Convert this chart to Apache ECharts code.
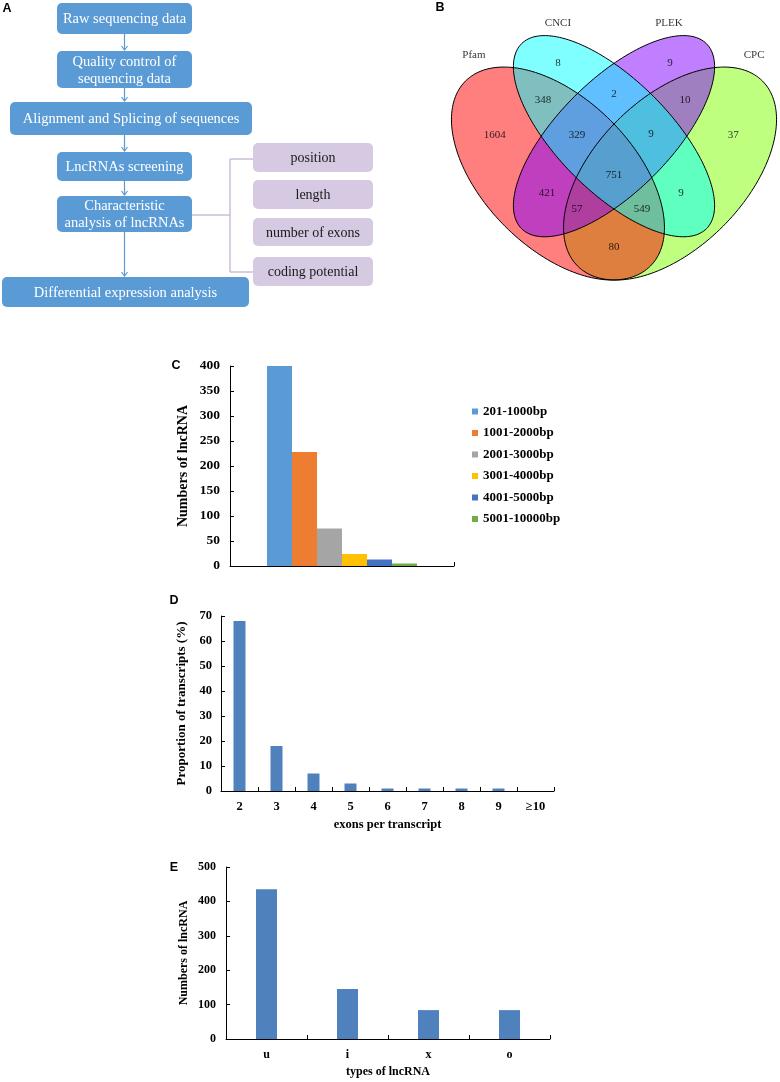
<!DOCTYPE html>
<html>
<head>
<meta charset="utf-8">
<script src="https://cdn.jsdelivr.net/npm/echarts@6/dist/echarts.min.js"></script>
<style>
html,body{margin:0;padding:0;background:#fff;}
#chart{width:780px;height:1082px;}
</style>
</head>
<body>
<div id="chart"></div>
<script>
// ---------------- DATA ----------------
// Panel A (workflow)
const flowSteps = ['Raw sequencing data', 'Quality control of\nsequencing data', 'Alignment and Splicing of sequences', 'LncRNAs screening', 'Characteristic\nanalysis of lncRNAs', 'Differential expression analysis'];
const featureSteps = ['position', 'length', 'number of exons', 'coding potential'];

// Panel B (Venn)
const vennSets = ['Pfam', 'CNCI', 'PLEK', 'CPC'];
const vennRegionNames = ['CNCI', 'PLEK', 'Pfam&CNCI', 'CNCI&PLEK', 'PLEK&CPC', 'Pfam', 'Pfam&CNCI&PLEK', 'CNCI&PLEK&CPC', 'CPC', 'Pfam&CNCI&PLEK&CPC', 'Pfam&PLEK', 'CNCI&CPC', 'Pfam&PLEK&CPC', 'Pfam&CNCI&CPC', 'Pfam&CPC'];
const vennRegionCounts = [8, 9, 348, 2, 10, 1604, 329, 9, 37, 751, 421, 9, 57, 549, 80];

// Panel C
const lengthBins = ['201-1000bp', '1001-2000bp', '2001-3000bp', '3001-4000bp', '4001-5000bp', '5001-10000bp'];
const lengthCounts = [400, 228, 75, 24, 13, 5];

// Panel D
const exonCats = ['2', '3', '4', '5', '6', '7', '8', '9', '≥10'];
const exonPct = [68, 18, 7, 3, 1, 1, 1, 1, 0];

// Panel E
const typeCats = ['u', 'i', 'x', 'o'];
const typeCounts = [435, 145, 84, 84];

// ---------------- LAYOUT / STYLE ----------------
const SERIF = '"Liberation Serif","Times New Roman",serif';
const SANS = '"Liberation Sans",Arial,sans-serif';
const flowBlue = '#5b9bd5';
const lavender = '#d6cae2';
const lengthColors = ['#5b9bd5', '#ed7d31', '#a5a5a5', '#ffc000', '#4472c4', '#70ad47'];
const barBlue = '#4f81bd';

// Venn ellipse geometry (unit layout: cx, cy, semi-major, semi-minor, angle)
const vennEllipses = {
  Pfam: [0.35, 0.47, 0.35, 0.20, -45],
  CNCI: [0.50, 0.57, 0.35, 0.15, -45],
  PLEK: [0.50, 0.57, 0.35, 0.15, 45],
  CPC:  [0.65, 0.47, 0.35, 0.20, 45]
};
const vennFill = { Pfam: 'rgba(255,0,0,0.5)', CNCI: 'rgba(0,255,255,0.5)', PLEK: 'rgba(127,0,255,0.5)', CPC: 'rgba(127,255,0,0.5)' };
const vennDrawOrder = ['CPC', 'Pfam', 'PLEK', 'CNCI'];
const vennSetLabelPos = { Pfam: [0.125, 0.787], CNCI: [0.350, 0.873], PLEK: [0.647, 0.873], CPC: [0.875, 0.787] };
const vennRegionPos = {
  'CNCI': [0.350, 0.766], 'PLEK': [0.650, 0.766], 'Pfam&CNCI': [0.310, 0.667], 'CNCI&PLEK': [0.5, 0.683],
  'PLEK&CPC': [0.690, 0.667], 'Pfam': [0.181, 0.573], 'Pfam&CNCI&PLEK': [0.401, 0.573], 'CNCI&PLEK&CPC': [0.599, 0.576],
  'CPC': [0.819, 0.573], 'Pfam&CNCI&PLEK&CPC': [0.5, 0.466], 'Pfam&PLEK': [0.321, 0.418], 'CNCI&CPC': [0.679, 0.418],
  'Pfam&PLEK&CPC': [0.401, 0.375], 'Pfam&CNCI&CPC': [0.575, 0.375], 'Pfam&CPC': [0.5, 0.273]
};

// Flowchart boxes layout
const flowBoxes = [
  [57, 3, 135, 31], [57, 51, 135, 37], [10, 102, 242, 33], [57, 152, 135, 29], [57, 196, 135, 36], [2, 277, 247, 30]
];
const featureBoxes = [[253, 143, 120, 29], [253, 180, 120, 29], [253, 218, 120, 28], [253, 257, 120, 29]];

// ---------------- GRAPHIC (panel A + letters) ----------------
const graphics = [];
flowBoxes.forEach((b, i) => {
  graphics.push({ type: 'rect', shape: { x: b[0], y: b[1], width: b[2], height: b[3], r: 5 }, style: { fill: flowBlue }, silent: true });
  graphics.push({ type: 'text', x: b[0] + b[2] / 2, y: b[1] + b[3] / 2 + 1, style: { text: flowSteps[i], fill: '#ffffff', fontFamily: SERIF, fontSize: 14.5, lineHeight: 17, align: 'center', verticalAlign: 'middle' }, silent: true });
});
featureBoxes.forEach((b, i) => {
  graphics.push({ type: 'rect', shape: { x: b[0], y: b[1], width: b[2], height: b[3], r: 5 }, style: { fill: lavender }, silent: true });
  graphics.push({ type: 'text', x: b[0] + b[2] / 2, y: b[1] + b[3] / 2 + 1, style: { text: featureSteps[i], fill: '#1a1a1a', fontFamily: SERIF, fontSize: 14, align: 'center', verticalAlign: 'middle' }, silent: true });
});
// arrows
const arrowX = 124.5;
const arrowSegs = [[34, 51], [88, 102], [135, 152], [181, 196], [232, 277]];
arrowSegs.forEach(s => {
  graphics.push({ type: 'line', shape: { x1: arrowX, y1: s[0], x2: arrowX, y2: s[1] - 1 }, style: { stroke: flowBlue, lineWidth: 1.2 }, silent: true });
  graphics.push({ type: 'polyline', shape: { points: [[arrowX - 3, s[1] - 5], [arrowX, s[1] - 1], [arrowX + 3, s[1] - 5]] }, style: { stroke: flowBlue, lineWidth: 1.2, fill: null }, silent: true });
});
// bracket
const bracketColor = '#cbbcd9';
[[192, 215, 230, 215], [230, 159, 230, 272], [230, 159, 253, 159], [230, 272, 253, 272]].forEach(l => {
  graphics.push({ type: 'line', shape: { x1: l[0], y1: l[1], x2: l[2], y2: l[3] }, style: { stroke: bracketColor, lineWidth: 1.5 }, silent: true });
});
// panel letters
[['A', 7, 9], ['B', 440, 8], ['C', 176, 366], ['D', 174, 601], ['E', 174, 868]].forEach(p => {
  graphics.push({ type: 'text', x: p[1], y: p[2], style: { text: p[0], fill: '#000', fontFamily: SANS, fontWeight: 'bold', fontSize: 12.5, align: 'center', verticalAlign: 'middle' }, silent: true });
});

// ---------------- SERIES ----------------
function ellipsePoints(api, e) {
  const [cx, cy, a, b, deg] = e;
  const ang = deg * Math.PI / 180;
  const pts = [];
  const N = 180;
  for (let i = 0; i < N; i++) {
    const t = i / N * 2 * Math.PI;
    const x = cx + a * Math.cos(t) * Math.cos(ang) - b * Math.sin(t) * Math.sin(ang);
    const y = cy + a * Math.cos(t) * Math.sin(ang) + b * Math.sin(t) * Math.cos(ang);
    pts.push(api.coord([x, y]));
  }
  return pts;
}
const vennEllipseData = vennDrawOrder.map(n => ({ name: n, value: vennEllipses[n] }));

const axisTextBold = { color: '#000', fontFamily: SERIF, fontWeight: 'bold' };
const axisLineBlack = { lineStyle: { color: '#000', width: 1 } };

const series = [
  {
    type: 'custom', xAxisIndex: 0, yAxisIndex: 0, silent: true, clip: false,
    data: vennEllipseData,
    renderItem: function (params, api) {
      const n = vennDrawOrder[params.dataIndex];
      return { type: 'polygon', shape: { points: ellipsePoints(api, vennEllipses[n]) }, style: { fill: vennFill[n], stroke: null } };
    }
  },
  {
    type: 'custom', xAxisIndex: 0, yAxisIndex: 0, silent: true, clip: false,
    data: vennEllipseData,
    renderItem: function (params, api) {
      const n = vennDrawOrder[params.dataIndex];
      return { type: 'polygon', shape: { points: ellipsePoints(api, vennEllipses[n]) }, style: { fill: null, stroke: '#000', lineWidth: 1 } };
    }
  },
  {
    type: 'scatter', xAxisIndex: 0, yAxisIndex: 0, silent: true, symbolSize: 0,
    data: vennRegionNames.map((n, i) => ({ name: n, value: [vennRegionPos[n][0], vennRegionPos[n][1], vennRegionCounts[i]] })),
    label: { show: true, position: 'inside', formatter: p => String(p.value[2]), color: '#000', fontFamily: SERIF, fontSize: 11 }
  },
  {
    type: 'scatter', xAxisIndex: 0, yAxisIndex: 0, silent: true, symbolSize: 0,
    data: vennSets.map(n => ({ name: n, value: [vennSetLabelPos[n][0], vennSetLabelPos[n][1]] })),
    label: { show: true, position: 'inside', formatter: p => p.name, color: '#000', fontFamily: SERIF, fontSize: 11 }
  }
];
lengthBins.forEach((name, i) => {
  series.push({
    type: 'bar', name: name, xAxisIndex: 1, yAxisIndex: 1, barWidth: 25, barGap: '0%',
    itemStyle: { color: lengthColors[i] }, data: [lengthCounts[i]], silent: true
  });
});
series.push({ type: 'bar', xAxisIndex: 2, yAxisIndex: 2, barWidth: 12, data: exonPct, itemStyle: { color: barBlue }, silent: true });
series.push({ type: 'bar', xAxisIndex: 3, yAxisIndex: 3, barWidth: 21, data: typeCounts, itemStyle: { color: barBlue }, silent: true });

const option = {
  animation: false,
  backgroundColor: '#ffffff',
  graphic: graphics,
  grid: [
    { left: 449.6, top: 12.9, width: 328.8, height: 280.2 },
    { left: 230, top: 366, width: 224, height: 200 },
    { left: 221, top: 616, width: 333, height: 175 },
    { left: 226, top: 867, width: 324, height: 172 }
  ],
  xAxis: [
    { gridIndex: 0, type: 'value', min: 0.06, max: 0.94, show: false },
    { gridIndex: 1, type: 'category', data: [''], axisLine: axisLineBlack,
      axisTick: { show: true, inside: true, length: 4, lineStyle: { color: '#000' } }, axisLabel: { show: false } },
    { gridIndex: 2, type: 'category', data: exonCats, axisLine: axisLineBlack,
      axisTick: { show: true, inside: true, length: 4, interval: 0, lineStyle: { color: '#000' } },
      axisLabel: Object.assign({ fontSize: 12.5, margin: 9, interval: 0 }, axisTextBold),
      name: 'exons per transcript', nameLocation: 'middle', nameGap: 27,
      nameTextStyle: Object.assign({ fontSize: 12.5 }, axisTextBold) },
    { gridIndex: 3, type: 'category', data: typeCats, axisLine: axisLineBlack,
      axisTick: { show: true, inside: true, length: 4, interval: 0, lineStyle: { color: '#000' } },
      axisLabel: Object.assign({ fontSize: 12, margin: 10, interval: 0 }, axisTextBold),
      name: 'types of lncRNA', nameLocation: 'middle', nameGap: 27,
      nameTextStyle: Object.assign({ fontSize: 12 }, axisTextBold) }
  ],
  yAxis: [
    { gridIndex: 0, type: 'value', min: 0.15, max: 0.90, show: false },
    { gridIndex: 1, type: 'value', min: 0, max: 400, interval: 50, axisLine: Object.assign({ show: true }, axisLineBlack),
      axisTick: { show: true, inside: true, length: 4, lineStyle: { color: '#000' } }, splitLine: { show: false },
      axisLabel: Object.assign({ fontSize: 13.5, margin: 10 }, axisTextBold),
      name: 'Numbers of lncRNA', nameLocation: 'middle', nameGap: 40, nameRotate: 90,
      nameTextStyle: Object.assign({ fontSize: 14 }, axisTextBold) },
    { gridIndex: 2, type: 'value', min: 0, max: 70, interval: 10, axisLine: Object.assign({ show: true }, axisLineBlack),
      axisTick: { show: true, inside: true, length: 4, lineStyle: { color: '#000' } }, splitLine: { show: false },
      axisLabel: Object.assign({ fontSize: 12.5, margin: 9 }, axisTextBold),
      name: 'Proportion of transcripts (%)', nameLocation: 'middle', nameGap: 33, nameRotate: 90,
      nameTextStyle: Object.assign({ fontSize: 13 }, axisTextBold) },
    { gridIndex: 3, type: 'value', min: 0, max: 500, interval: 100, axisLine: Object.assign({ show: true }, axisLineBlack),
      axisTick: { show: true, inside: true, length: 4, lineStyle: { color: '#000' } }, splitLine: { show: false },
      axisLabel: Object.assign({ fontSize: 12, margin: 10 }, axisTextBold),
      name: 'Numbers of lncRNA', nameLocation: 'middle', nameGap: 36, nameRotate: 90,
      nameTextStyle: Object.assign({ fontSize: 12 }, axisTextBold) }
  ],
  legend: {
    data: lengthBins, orient: 'vertical', left: 467, top: 399, itemWidth: 6, itemHeight: 6, itemGap: 6.5,
    icon: 'rect', selectedMode: false,
    textStyle: { color: '#000', fontFamily: SERIF, fontWeight: 'bold', fontSize: 13, lineHeight: 15 }
  },
  series: series
};

const chart = echarts.init(document.getElementById('chart'), null, { renderer: 'canvas' });
chart.setOption(option);
</script>
</body>
</html>
